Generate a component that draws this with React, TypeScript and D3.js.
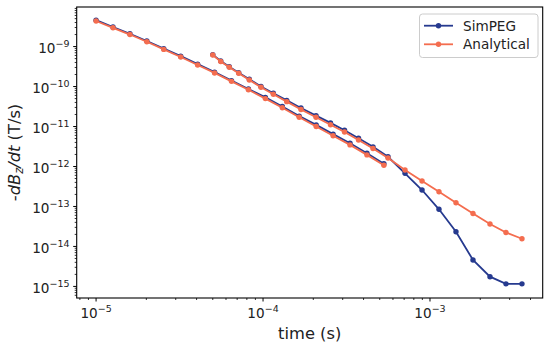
import React from 'react';
import * as d3 from 'd3';

// time channels (s)
const earlyTimes = [
  1.0e-5, 1.263e-5, 1.595e-5, 2.014e-5, 2.543e-5, 3.214e-5, 4.059e-5, 5.126e-5, 6.474e-5,
  8.176e-5, 1.033e-4, 1.305e-4, 1.647e-4, 2.081e-4, 2.628e-4, 3.319e-4, 4.192e-4, 5.294e-4,
];
const lateTimes = [
  5.0e-5, 5.58e-5, 6.28e-5, 7.15e-5, 8.28e-5, 9.72e-5, 1.153e-4, 1.387e-4, 1.688e-4, 2.077e-4,
  2.536e-4, 3.076e-4, 3.731e-4, 4.557e-4, 5.605e-4, 7.086e-4, 8.96e-4, 1.132e-3, 1.431e-3,
  1.809e-3, 2.287e-3, 2.851e-3, 3.555e-3,
];

// -dBz/dt (T/s)
const simpegEarly = [
  4.57e-9, 3.09e-9, 2.09e-9, 1.38e-9, 8.9e-10, 5.75e-10, 3.63e-10, 2.29e-10, 1.41e-10,
  8.7e-11, 5.37e-11, 3.16e-11, 1.82e-11, 1.1e-11, 6.46e-12, 3.8e-12, 2.14e-12, 1.17e-12,
];
const simpegLate = [
  6.3e-10, 4.35e-10, 3.12e-10, 2.22e-10, 1.52e-10, 1.0e-10, 6.8e-11, 4.5e-11, 2.9e-11, 1.87e-11,
  1.23e-11, 8.1e-12, 5.1e-12, 3.1e-12, 1.75e-12, 6.76e-13, 2.58e-13, 8.49e-14, 2.34e-14,
  4.58e-15, 1.75e-15, 1.16e-15, 1.16e-15,
];
const analyticEarly = [
  4.37e-9, 2.95e-9, 2.0e-9, 1.32e-9, 8.5e-10, 5.5e-10, 3.47e-10, 2.19e-10, 1.35e-10,
  8.3e-11, 5.0e-11, 2.95e-11, 1.7e-11, 1.0e-11, 5.9e-12, 3.47e-12, 1.95e-12, 1.07e-12,
];
const analyticLate = [
  6.17e-10, 4.24e-10, 3.03e-10, 2.15e-10, 1.46e-10, 9.59e-11, 6.41e-11, 4.19e-11, 2.66e-11,
  1.7e-11, 1.11e-11, 7.3e-12, 4.6e-12, 2.82e-12, 1.63e-12, 8.18e-13, 4.34e-13, 2.34e-13,
  1.24e-13, 6.68e-14, 3.65e-14, 2.23e-14, 1.56e-14,
];

const xTickExps = [-5, -4, -3];
const yTickExps = [-15, -14, -13, -12, -11, -10, -9];
const legendLabels = ['SimPEG', 'Analytical'];

const BLUE = '#263a8f';
const ORANGE = '#f46d4f';
const FONT = 'DejaVu Sans, sans-serif';

const L = 76.7, R = 542.7, T = 7, B = 298;

export default function App() {
  const x = d3.scaleLog().domain([Math.pow(10, -5.116), Math.pow(10, -2.325)]).range([L, R]);
  const y = d3.scaleLog().domain([Math.pow(10, -15.29), Math.pow(10, -8.01)]).range([B, T]);

  const line = (ts: number[]) =>
    d3.line<number>().x((_, i) => x(ts[i])).y((v) => y(v));

  const series = [
    { ts: earlyTimes, vs: simpegEarly, c: BLUE },
    { ts: lateTimes, vs: simpegLate, c: BLUE },
    { ts: earlyTimes, vs: analyticEarly, c: ORANGE },
    { ts: lateTimes, vs: analyticLate, c: ORANGE },
  ];

  const isMajor = (v: number) => Math.abs(Math.log10(v) - Math.round(Math.log10(v))) < 1e-6;
  const xMinor = x.ticks().filter((v) => !isMajor(v) && x(v) >= L && x(v) <= R);
  const yMinor = y.ticks().filter((v) => !isMajor(v) && y(v) >= T && y(v) <= B);

  return (
    <svg width={550} height={347} style={{ position: 'absolute', left: 0, top: 0 }} fontFamily={FONT}>
      <rect x={0} y={0} width={550} height={347} fill="#fff" />
      <defs>
        <clipPath id="plot">
          <rect x={L} y={T} width={R - L} height={B - T} />
        </clipPath>
      </defs>

      <g clipPath="url(#plot)">
        {series.map((s, k) => (
          <g key={k}>
            <path d={line(s.ts)(s.vs) || ''} fill="none" stroke={s.c} strokeWidth={1.8} />
            {s.vs.map((v, i) => (
              <circle key={i} cx={x(s.ts[i])} cy={y(v)} r={2.7} fill={s.c} />
            ))}
          </g>
        ))}
      </g>

      {/* spines */}
      <rect x={L} y={T} width={R - L} height={B - T} fill="none" stroke="#000" strokeWidth={1.1} />

      {/* x ticks */}
      {xMinor.map((v, i) => (
        <line key={i} x1={x(v)} x2={x(v)} y1={B} y2={B + 2} stroke="#000" strokeWidth={0.8} />
      ))}
      {xTickExps.map((e) => {
        const px = x(Math.pow(10, e));
        return (
          <g key={e}>
            <line x1={px} x2={px} y1={B} y2={B + 3.5} stroke="#000" strokeWidth={1} />
            <text x={px} y={318} textAnchor="middle" fontSize={13.6} fill="#222">
              10
              <tspan fontSize={9.5} dy={-6}>{'\u2212' + Math.abs(e)}</tspan>
            </text>
          </g>
        );
      })}

      {/* y ticks */}
      {yMinor.map((v, i) => (
        <line key={i} x1={L - 2} x2={L} y1={y(v)} y2={y(v)} stroke="#000" strokeWidth={0.8} />
      ))}
      {yTickExps.map((e) => {
        const py = y(Math.pow(10, e));
        return (
          <g key={e}>
            <line x1={L - 3.5} x2={L} y1={py} y2={py} stroke="#000" strokeWidth={1} />
            <text x={69.5} y={py + 6.5} textAnchor="end" fontSize={13.6} fill="#222">
              10
              <tspan fontSize={9.5} dy={-6}>{'\u2212' + Math.abs(e)}</tspan>
            </text>
          </g>
        );
      })}

      {/* axis labels */}
      <text x={(L + R) / 2} y={339} textAnchor="middle" fontSize={16.3} fill="#222">
        time (s)
      </text>
      <text transform={`translate(20,${(T + B) / 2}) rotate(-90)`} textAnchor="middle" fontSize={16.3} fill="#222">
        -<tspan fontStyle="italic">dB</tspan>
        <tspan fontStyle="italic" fontSize={11.5} dy={3}>z</tspan>
        <tspan fontStyle="italic" dy={-3}>/dt</tspan> (T/s)
      </text>

      {/* legend */}
      <rect x={419.5} y={14} width={118.5} height={43.5} rx={3} fill="#fff" fillOpacity={0.8} stroke="#ccc" strokeWidth={1} />
      {legendLabels.map((lab, i) => {
        const ly = 25.7 + i * 18.6;
        const c = i === 0 ? BLUE : ORANGE;
        return (
          <g key={lab}>
            <line x1={424} x2={453} y1={ly} y2={ly} stroke={c} strokeWidth={1.8} />
            <circle cx={438.5} cy={ly} r={2.7} fill={c} />
            <text x={463} y={ly + 4.8} fontSize={13.6} fill="#222">{lab}</text>
          </g>
        );
      })}
    </svg>
  );
}
